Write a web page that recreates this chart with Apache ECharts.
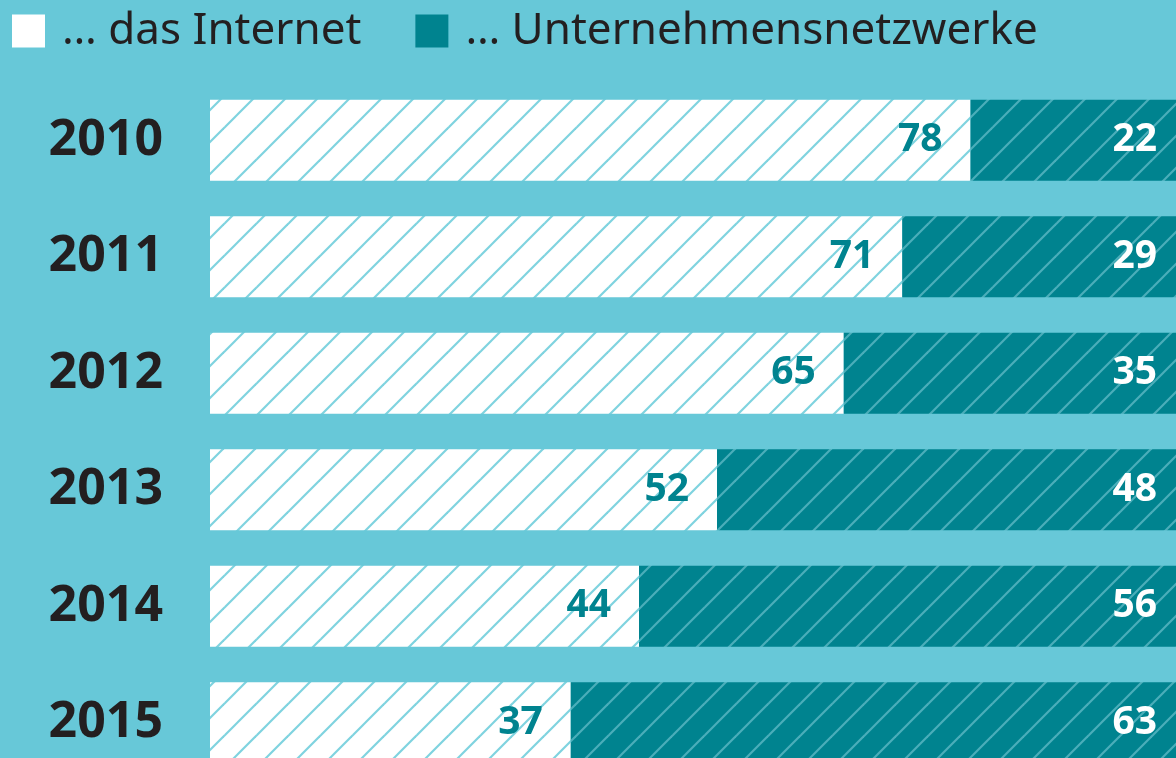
<!DOCTYPE html>
<html>
<head>
<meta charset="utf-8">
<script src="https://cdn.jsdelivr.net/npm/echarts@6/dist/echarts.min.js"></script>
<style>
  html, body { margin: 0; padding: 0; background: #67c8d8; overflow: hidden; }
  /* Diagramm ragt rechts und unten etwas ueber den Bildrand hinaus */
  #chart { width: 1185px; height: 781px; }
</style>
</head>
<body>
<div id="chart"></div>
<script>
  // Daten
  const years = ["2010", "2011", "2012", "2013", "2014", "2015"];
  const internet = [78, 71, 65, 52, 44, 37];
  const netzwerke = [22, 29, 35, 48, 56, 63];
  const seriesNames = ["… das Internet", "… Unternehmensnetzwerke"];

  const bg = "#67c8d8";
  const dark = "#00838f";

  // schraffiertes Muster fuer die Balken
  function hatch(fill, line) {
    const s = 32;
    const c = document.createElement("canvas");
    c.width = s;
    c.height = s;
    const ctx = c.getContext("2d");
    ctx.fillStyle = fill;
    ctx.fillRect(0, 0, s, s);
    ctx.strokeStyle = line;
    ctx.lineWidth = 2.2;
    [0, s, 2 * s].forEach(k => {
      ctx.beginPath();
      ctx.moveTo(k - s - 2, s + 2);
      ctx.lineTo(k + 2, -2);
      ctx.stroke();
    });
    return { image: c, repeat: "repeat" };
  }

  const chart = echarts.init(document.getElementById("chart"));

  const option = {
    backgroundColor: bg,
    animation: false,
    legend: {
      left: 12,
      top: 9,
      padding: 0,
      itemWidth: 33,
      itemHeight: 33,
      itemGap: 54,
      icon: "rect",
      textStyle: {
        fontFamily: "Noto Sans",
        fontSize: 44,
        color: "#231f20",
        padding: [4, 0, 0, 12]
      },
      data: [
        { name: seriesNames[0], itemStyle: { color: "#ffffff" } },
        { name: seriesNames[1], itemStyle: { color: dark } }
      ]
    },
    grid: {
      left: 210,
      right: 0,
      top: 82,
      bottom: 0
    },
    xAxis: {
      type: "value",
      min: 0,
      max: 100,
      show: false
    },
    yAxis: {
      type: "category",
      data: years,
      inverse: true,
      axisLine: { show: false },
      axisTick: { show: false },
      axisLabel: {
        margin: 47,
        fontFamily: "Noto Sans",
        fontWeight: "bold",
        fontSize: 50,
        color: "#231f20"
      }
    },
    series: [
      {
        name: seriesNames[0],
        type: "bar",
        stack: "total",
        barWidth: 81,
        data: internet,
        itemStyle: { color: hatch("#ffffff", "#7fd3df") },
        label: {
          show: true,
          position: "insideRight",
          distance: 28,
          fontFamily: "Noto Sans",
          fontWeight: "bold",
          fontSize: 39,
          color: dark
        }
      },
      {
        name: seriesNames[1],
        type: "bar",
        stack: "total",
        barWidth: 81,
        data: netzwerke,
        itemStyle: { color: hatch(dark, "#4aaeba") },
        label: {
          show: true,
          position: "insideRight",
          distance: 28,
          fontFamily: "Noto Sans",
          fontWeight: "bold",
          fontSize: 39,
          color: "#ffffff"
        }
      }
    ]
  };

  chart.setOption(option);
</script>
</body>
</html>
